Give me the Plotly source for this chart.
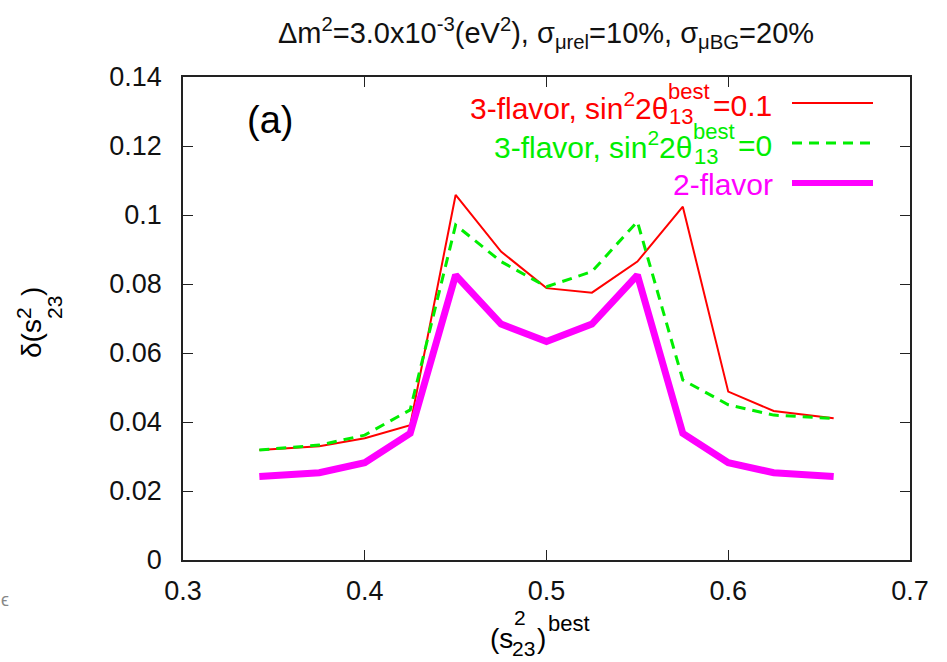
import plotly.graph_objects as go

# s23^2 best-fit points and resolution curves
s23_best = [0.342, 0.375, 0.4, 0.425, 0.45, 0.475, 0.5, 0.525, 0.55, 0.575, 0.6, 0.625, 0.658]
three_flavor_01 = [0.0319, 0.0330, 0.0353, 0.0391, 0.1058, 0.0894, 0.0788, 0.0775, 0.0865, 0.1024, 0.0488, 0.0432, 0.0411]
three_flavor_0 = [0.0319, 0.0333, 0.0362, 0.0435, 0.0971, 0.0865, 0.0792, 0.0836, 0.0981, 0.0522, 0.0450, 0.0420, 0.0410]
two_flavor = [0.0242, 0.0253, 0.0282, 0.0367, 0.0826, 0.0684, 0.0633, 0.0684, 0.0826, 0.0367, 0.0282, 0.0253, 0.0242]

x_ticks = [0.3, 0.4, 0.5, 0.6, 0.7]
x_ticktext = ["0.3", "0.4", "0.5", "0.6", "0.7"]
y_ticks = [0, 0.02, 0.04, 0.06, 0.08, 0.1, 0.12, 0.14]
y_ticktext = ["0", "0.02", "0.04", "0.06", "0.08", "0.1", "0.12", "0.14"]

RED, GREEN, MAGENTA = "#ff0000", "#00ee00", "#ff00ff"
FONT = "Liberation Sans, Arial, Helvetica, sans-serif"

W, H = 947, 662
L, R, T, B = 183, 37, 77, 102
PW, PH = W - L - R, H - T - B


def px(x):
    return (x - L) / PW


def py(y):
    return (H - B - y) / PH


def ann(text, x, y, size, xanchor="left", color="black", angle=0):
    return dict(text=text, x=px(x), y=py(y), xref="paper", yref="paper",
                xanchor=xanchor, yanchor="middle", showarrow=False,
                borderpad=0, borderwidth=0,
                textangle=angle, font=dict(family=FONT, size=size, color=color))


fig = go.Figure()
fig.add_trace(go.Scatter(x=s23_best, y=three_flavor_01, mode="lines",
                         line=dict(color=RED, width=2), showlegend=False))
fig.add_trace(go.Scatter(x=s23_best, y=three_flavor_0, mode="lines",
                         line=dict(color=GREEN, width=3, dash="10px,7px"), showlegend=False))
fig.add_trace(go.Scatter(x=s23_best, y=two_flavor, mode="lines",
                         line=dict(color=MAGENTA, width=7), showlegend=False))

annotations = [
    # panel tag
    ann("(a)", 270, 120, 38, xanchor="center"),
    # key: 3-flavor, sin^2 2theta13 = 0.1
    ann("3-flavor, sin<sup>2</sup>2θ", 668, 106, 30, xanchor="right", color=RED),
    ann("best", 668, 92, 22, color=RED),
    ann("13", 669, 117, 22, color=RED),
    ann("=0.1", 713, 106, 30, color=RED),
    # key: 3-flavor, sin^2 2theta13 = 0
    ann("3-flavor, sin<sup>2</sup>2θ", 692, 145, 30, xanchor="right", color=GREEN),
    ann("best", 693, 131, 22, color=GREEN),
    ann("13", 694, 156, 22, color=GREEN),
    ann("=0", 738, 145, 30, color=GREEN),
    # key: 2-flavor
    ann("2-flavor", 773, 184, 30, xanchor="right", color=MAGENTA),
    # x axis title (s23^2)^best
    ann("(s", 513, 638, 28, xanchor="right"),
    ann("2", 514, 617, 21),
    ann("23", 512, 648, 21),
    ann(")", 537, 638, 28),
    ann("best", 548, 623, 22),
    # y axis title delta(s23^2)
    ann("δ(s", 31, 339, 28, xanchor="center", angle=-90),
    ann("2", 23, 313, 21, xanchor="center", angle=-90),
    ann("23", 54, 308, 21, xanchor="center", angle=-90),
    ann(")", 31, 292, 28, xanchor="center", angle=-90),
    # stray mark at the left margin
    ann("ϵ", 1, 600, 18, color="#888888"),
]

shapes = [
    dict(type="line", xref="paper", yref="paper", x0=px(792), x1=px(873), y0=py(103), y1=py(103),
         line=dict(color=RED, width=2)),
    dict(type="line", xref="paper", yref="paper", x0=px(792), x1=px(873), y0=py(143), y1=py(143),
         line=dict(color=GREEN, width=3, dash="10px,7px")),
    dict(type="line", xref="paper", yref="paper", x0=px(792), x1=px(873), y0=py(183), y1=py(183),
         line=dict(color=MAGENTA, width=6)),
]

axis_common = dict(showgrid=False, zeroline=False, showline=True, linecolor="#222222",
                   linewidth=1.5, mirror="ticks", ticks="inside", ticklen=10,
                   tickwidth=1.3, tickcolor="#222222",
                   tickfont=dict(family=FONT, size=27, color="#111111"))

fig.update_layout(
    width=W, height=H,
    margin=dict(l=L, r=R, t=T, b=B),
    paper_bgcolor="white", plot_bgcolor="white",
    title=dict(text="Δm<sup>2</sup>=3.0x10<sup>-3</sup>(eV<sup>2</sup>), σ<sub>μrel</sub>=10%, σ<sub>μBG</sub>=20%",
               x=546 / W, xanchor="center", y=1 - 33 / H, yanchor="middle",
               font=dict(family=FONT, size=29, color="#111111")),
    xaxis=dict(range=[0.3, 0.7], tickvals=x_ticks, ticktext=x_ticktext,
               ticklabelstandoff=6, **axis_common),
    yaxis=dict(range=[0, 0.14], tickvals=y_ticks, ticktext=y_ticktext,
               ticklabelstandoff=14, **axis_common),
    annotations=annotations,
    shapes=shapes,
    showlegend=False,
)

fig.write_html("out.html")
